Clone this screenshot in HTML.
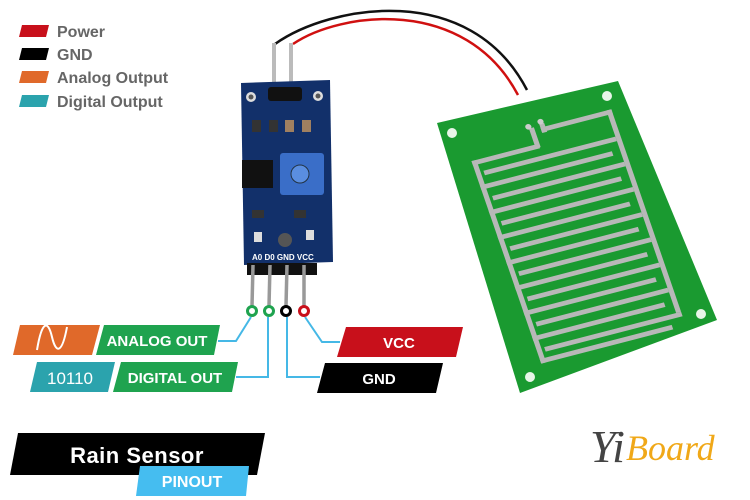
<!DOCTYPE html>
<html><head><meta charset="utf-8"><style>
body{margin:0;background:#fff}
svg{display:block}
</style></head><body>
<svg width="750" height="500" viewBox="0 0 750 500" xmlns="http://www.w3.org/2000/svg" font-family="Liberation Sans, sans-serif">
<rect width="750" height="500" fill="#fff"/>
<!-- legend -->
<polygon points="22,25 49,25 46,37 19,37" fill="#c8101b"/>
<polygon points="22,48 49,48 46,60 19,60" fill="#000"/>
<polygon points="22,71 49,71 46,83 19,83" fill="#e0692a"/>
<polygon points="22,95 49,95 46,107 19,107" fill="#2ba3ad"/>
<g fill="#666" font-size="16" font-weight="bold">
<text x="57" y="37">Power</text>
<text x="57" y="60">GND</text>
<text x="57" y="83">Analog Output</text>
<text x="57" y="107">Digital Output</text>
</g>
<!-- wires -->
<path d="M275,44 C330,5 470,-20 527,90" stroke="#111" stroke-width="2.5" fill="none"/>
<path d="M293,44 C340,12 465,-5 518,95" stroke="#d01010" stroke-width="2.5" fill="none"/>
<!-- top pins -->
<rect x="272" y="43" width="4" height="55" fill="#bbb"/>
<rect x="289" y="43" width="4" height="55" fill="#bbb"/>
<!-- module board -->
<polygon points="241,83 330,80 333,262 244,265" fill="#12306a"/>
<rect x="268" y="87" width="34" height="14" rx="3" fill="#111"/>
<circle cx="251" cy="97" r="5" fill="#ddd"/><circle cx="251" cy="97" r="2.5" fill="#555"/>
<circle cx="318" cy="96" r="5" fill="#ddd"/><circle cx="318" cy="96" r="2.5" fill="#555"/>
<rect x="252" y="120" width="9" height="12" fill="#333"/><rect x="269" y="120" width="9" height="12" fill="#333"/>
<rect x="285" y="120" width="9" height="12" fill="#a08060"/><rect x="302" y="120" width="9" height="12" fill="#a08060"/>
<rect x="242" y="160" width="31" height="28" fill="#111"/>
<rect x="280" y="153" width="44" height="42" rx="3" fill="#3a6ec8"/>
<circle cx="300" cy="174" r="9" fill="#5a8ee0" stroke="#234" stroke-width="1"/>
<rect x="252" y="210" width="12" height="8" fill="#333"/><rect x="294" y="210" width="12" height="8" fill="#333"/>
<circle cx="285" cy="240" r="7" fill="#555"/>
<rect x="254" y="232" width="8" height="10" fill="#ddd"/><rect x="306" y="230" width="8" height="10" fill="#ddd"/>
<text x="252" y="260" font-size="8" fill="#fff" font-weight="bold">A0 D0 GND VCC</text>
<rect x="247" y="263" width="70" height="12" fill="#111"/>
<!-- bottom pins -->
<g stroke="#999" stroke-width="3.5"><line x1="253" y1="265" x2="252" y2="306"/><line x1="270" y1="265" x2="269" y2="306"/><line x1="287" y1="265" x2="286" y2="306"/><line x1="304" y1="265" x2="304" y2="306"/></g>
<g fill="#fff" stroke-width="3"><circle cx="252" cy="311" r="4.5" stroke="#1fa34f"/><circle cx="269" cy="311" r="4.5" stroke="#1fa34f"/><circle cx="286" cy="311" r="4.5" stroke="#000"/><circle cx="304" cy="311" r="4.5" stroke="#c8101b"/></g>
<!-- connectors -->
<g stroke="#45b8e6" stroke-width="2" fill="none">
<polyline points="251,317 236,341 218,341"/>
<polyline points="268,317 268,377 236,377"/>
<polyline points="287,317 287,377 320,377"/>
<polyline points="305,317 322,342 340,342"/>
</g>
<!-- labels -->
<polygon points="20,325 100,325 92,355 13,355" fill="#e0692a"/>
<path d="M37,350 C42,320 48,320 52,337 C56,354 62,354 67,327" stroke="#fff" stroke-width="2" fill="none"/>
<polygon points="104,325 220,325 214,355 96,355" fill="#1fa34f"/>
<text x="157" y="346" font-size="15" font-weight="bold" fill="#fff" text-anchor="middle">ANALOG OUT</text>
<polygon points="37,362 115,362 108,392 30,392" fill="#2ba3ad"/>
<text x="70" y="384" font-size="17" fill="#fff" text-anchor="middle">10110</text>
<polygon points="121,362 238,362 232,392 113,392" fill="#1fa34f"/>
<text x="175" y="383" font-size="15" font-weight="bold" fill="#fff" text-anchor="middle">DIGITAL OUT</text>
<polygon points="346,327 463,327 456,357 337,357" fill="#c8101b"/>
<text x="399" y="348" font-size="15" font-weight="bold" fill="#fff" text-anchor="middle">VCC</text>
<polygon points="325,363 443,363 436,393 317,393" fill="#000"/>
<text x="379" y="384" font-size="15" font-weight="bold" fill="#fff" text-anchor="middle">GND</text>
<polygon points="18,433 265,433 257,475 10,475" fill="#000"/>
<text x="137" y="463" font-size="22" font-weight="bold" fill="#fff" text-anchor="middle" letter-spacing="0.5">Rain Sensor</text>
<polygon points="140,466 249,466 246,496 136,496" fill="#45bdf0"/>
<text x="192" y="487" font-size="16" font-weight="bold" fill="#fff" text-anchor="middle">PINOUT</text>
<!-- sensor pcb -->
<polygon points="437,123 618,81 717,320 520,393" fill="#1a9a30"/>
<circle cx="452" cy="133" r="5" fill="#e8f5e8"/><circle cx="607" cy="96" r="5" fill="#e8f5e8"/>
<circle cx="530" cy="377" r="5" fill="#e8f5e8"/><circle cx="701" cy="314" r="5" fill="#e8f5e8"/>
<g transform="matrix(0.985,-0.255,0.31,0.9,440,132)">
<g fill="#b8b8b8">
<rect x="20" y="38" width="5" height="225"/>
<rect x="20" y="38" width="68" height="5"/>
<rect x="95" y="22" width="72" height="5"/>
<rect x="162" y="22" width="5" height="225"/>
<rect x="84" y="20" width="5" height="22"/><rect x="95" y="18" width="5" height="10"/>
<rect x="28" y="51" width="134" height="5"/>
<rect x="20" y="65" width="134" height="5"/>
<rect x="28" y="79" width="134" height="5"/>
<rect x="20" y="93" width="134" height="5"/>
<rect x="28" y="107" width="134" height="5"/>
<rect x="20" y="121" width="134" height="5"/>
<rect x="28" y="135" width="134" height="5"/>
<rect x="20" y="149" width="134" height="5"/>
<rect x="28" y="163" width="134" height="5"/>
<rect x="20" y="177" width="134" height="5"/>
<rect x="28" y="191" width="134" height="5"/>
<rect x="20" y="205" width="134" height="5"/>
<rect x="28" y="219" width="134" height="5"/>
<rect x="20" y="233" width="134" height="5"/>
<rect x="28" y="247" width="139" height="5"/>
<rect x="20" y="258" width="134" height="5"/>
</g>
<circle cx="84" cy="18" r="3" fill="#ccc"/><circle cx="97" cy="16" r="3" fill="#ccc"/>
</g>
<!-- logo -->
<text x="590" y="462" style="font-family:'Liberation Serif',serif;font-style:italic" font-size="46" fill="#444">Yi</text>
<text x="626" y="460" style="font-family:'Liberation Serif',serif;font-style:italic" font-size="36" fill="#f0a818">Board</text>
</svg>
</body></html>
